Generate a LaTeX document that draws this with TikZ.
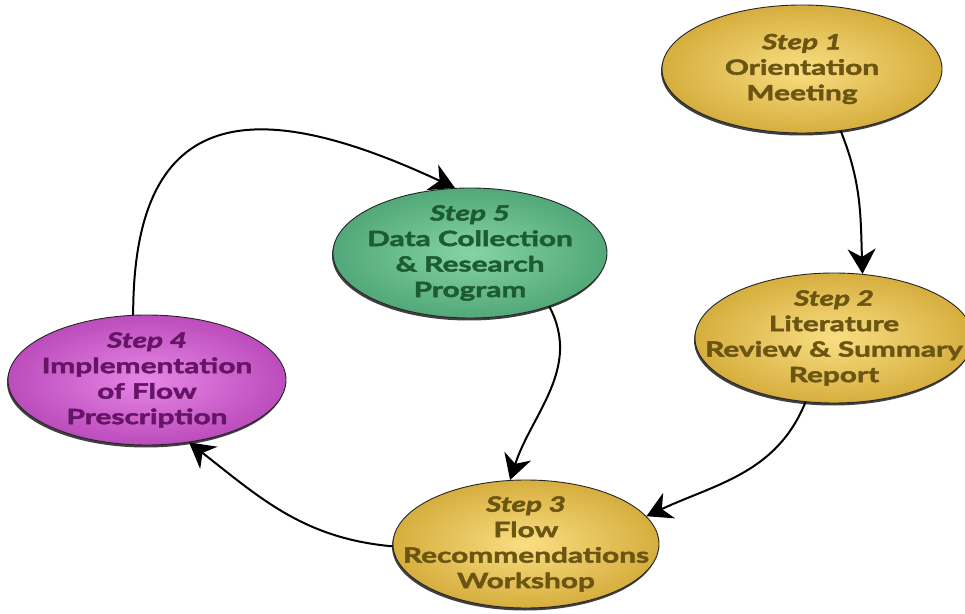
\documentclass[tikz,border=0pt]{standalone}
\usepackage{fontspec}
\setmainfont{Lato}[FakeStretch=1.42, BoldFeatures={FakeBold=2.2}, BoldItalicFeatures={FakeBold=2.2}]
\usetikzlibrary{shapes.geometric,arrows.meta,shadows}
\definecolor{goldin}{HTML}{F9DE82}
\definecolor{goldout}{HTML}{D6AE3E}
\definecolor{goldtxt}{HTML}{6B5512}
\definecolor{purin}{HTML}{E687E6}
\definecolor{purout}{HTML}{BC4CBC}
\definecolor{purtxt}{HTML}{661466}
\definecolor{grnin}{HTML}{86D4A6}
\definecolor{grnout}{HTML}{52A878}
\definecolor{grntxt}{HTML}{1C5C30}
\tikzset{
  stepshape/.style={ellipse, draw=black!85, line width=0.9pt, inner sep=0pt,
    drop shadow={shadow xshift=-1pt, shadow yshift=-2.5pt, fill=black, opacity=0.75}},
  goldstep/.style={stepshape, inner color=goldin, outer color=goldout},
  purstep/.style={stepshape, inner color=purin, outer color=purout},
  grnstep/.style={stepshape, inner color=grnin, outer color=grnout},
  steptext/.style={align=center, font=\fontsize{21}{25.5}\selectfont\bfseries, inner sep=0pt},
  flow/.style={line width=2pt, black, arrows={-Stealth[length=25pt, width=28pt, inset=8pt]}}
}
\begin{document}
\begin{tikzpicture}[x=1pt,y=1pt]
\useasboundingbox (0,0) rectangle (965,613);
\node[goldstep, minimum width=280pt, minimum height=128pt] (s1) at (802,544) {};
\node[goldstep, minimum width=278pt, minimum height=130pt] (s2) at (834,275) {};
\node[goldstep, minimum width=266pt, minimum height=128pt] (s3) at (526,69) {};
\node[purstep, minimum width=278pt, minimum height=130pt] (s4) at (147,233) {};
\node[grnstep, minimum width=274pt, minimum height=130pt] (s5) at (470,360) {};

\node[steptext, text=goldtxt] (t1) at (s1.center) {\textit{Step 1}\\Orientation\\Meeting};
\node[steptext, text=goldtxt] (t2) at (s2.center) {\textit{Step 2}\\Literature\\Review \& Summary\\Report};
\node[steptext, text=goldtxt] (t3) at (s3.center) {\textit{Step 3}\\Flow\\Recommendations\\Workshop};
\node[steptext, text=purtxt] (t4) at (s4.center) {\textit{Step 4}\\Implementation\\of Flow\\Prescription};
\node[steptext, text=grntxt] (t5) at (s5.center) {\textit{Step 5}\\Data Collection\\\& Research\\Program};

\draw[flow] (s1.-58) to[out=-68, in=92] (s2.66);
\draw[flow] (s2.-114) to[out=-112, in=25] (s3.13);
\draw[flow] (s5.-34) to[out=-62, in=72] (s3.104);
\draw[flow] (s3.181) to[out=175, in=-38] (s4.-56);
\draw[flow] (s4.102) to[out=90, in=155, looseness=1.6] (s5.103);
\end{tikzpicture}
\end{document}
